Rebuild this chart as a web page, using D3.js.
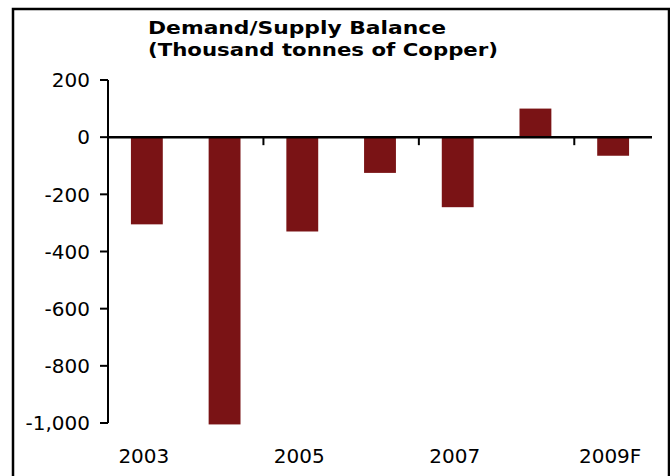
<!DOCTYPE html>
<html>
<head>
<meta charset="utf-8">
<script src="https://cdn.jsdelivr.net/npm/d3@7"></script>
<style>
  html, body { margin: 0; padding: 0; background: #fff; }
  svg { display: block; }
  text { font-family: "DejaVu Sans", Verdana, sans-serif; fill: #000; }
</style>
</head>
<body>
<svg id="chart" width="670" height="476"></svg>
<script>
const categories = ["2003", "2004", "2005", "2006", "2007", "2008", "2009F"];
const balance = [-305, -1005, -330, -125, -245, 100, -65];
const yTicks = [200, 0, -200, -400, -600, -800, -1000];
const shownLabels = ["2003", "2005", "2007", "2009F"];
const titleLines = ["Demand/Supply Balance", "(Thousand tonnes of Copper)"];

(function () {
const svg = d3.select("#chart");
const W = 670, H = 476;
const mLeft = 108, mRight = 652, mTop = 80, mBottom = 423;

svg.append("rect").attr("width", W).attr("height", H).attr("fill", "#fff");
// outer frame
svg.append("rect")
  .attr("x", 13).attr("y", 9).attr("width", 656).attr("height", 490)
  .attr("fill", "none").attr("stroke", "#000").attr("stroke-width", 2.5);

const x = d3.scaleBand().domain(categories).range([mLeft, mRight])
  .paddingInner(0.59).paddingOuter(0.295);
const y = d3.scaleLinear().domain([-1000, 200]).range([mBottom, mTop]);

const fmt = d3.formatLocale({decimal: ".", thousands: ",", grouping: [3], currency: ["", ""], minus: "-"}).format(",");

// bars
svg.append("g").selectAll("rect").data(categories).join("rect")
  .attr("x", d => x(d))
  .attr("width", x.bandwidth())
  .attr("y", (d, i) => y(Math.max(0, balance[i])))
  .attr("height", (d, i) => Math.abs(y(balance[i]) - y(0)))
  .attr("fill", "#7a1315");

// y axis
const yAxis = svg.append("g");
yAxis.append("line")
  .attr("x1", mLeft).attr("x2", mLeft).attr("y1", y(200)).attr("y2", y(-1000))
  .attr("stroke", "#000").attr("stroke-width", 2);
yAxis.selectAll("line.tick").data(yTicks).join("line").attr("class", "tick")
  .attr("x1", mLeft - 8).attr("x2", mLeft).attr("y1", d => y(d)).attr("y2", d => y(d))
  .attr("stroke", "#000").attr("stroke-width", 2);
yAxis.selectAll("text").data(yTicks).join("text")
  .attr("x", 90).attr("y", d => y(d)).attr("dy", "0.36em")
  .attr("text-anchor", "end").attr("font-size", 20)
  .text(d => fmt(d));

// x axis (zero line)
const y0 = y(0);
svg.append("line")
  .attr("x1", mLeft).attr("x2", mRight).attr("y1", y0).attr("y2", y0)
  .attr("stroke", "#000").attr("stroke-width", 2.5);
// category ticks between every second category
const tickCats = categories.filter((d, i) => i % 2 === 1 && i < categories.length - 1);
svg.selectAll("line.xtick").data(tickCats).join("line").attr("class", "xtick")
  .attr("x1", d => x(d) + x.bandwidth() / 2 + x.step() / 2)
  .attr("x2", d => x(d) + x.bandwidth() / 2 + x.step() / 2)
  .attr("y1", y0).attr("y2", y0 + 8)
  .attr("stroke", "#000").attr("stroke-width", 2);

// x labels
svg.selectAll("text.xlab").data(shownLabels).join("text").attr("class", "xlab")
  .attr("x", d => x(d) + x.bandwidth() / 2 - 3)
  .attr("y", 463)
  .attr("text-anchor", "middle").attr("font-size", 20)
  .text(d => d);

// title
svg.selectAll("text.title").data(titleLines).join("text").attr("class", "title")
  .attr("x", 148).attr("y", (d, i) => 34 + i * 22)
  .attr("font-size", 17.5).attr("font-weight", "bold")
  .attr("textLength", (d, i) => [298, 350][i])
  .attr("lengthAdjust", "spacingAndGlyphs")
  .text(d => d);
})();
</script>
</body>
</html>
